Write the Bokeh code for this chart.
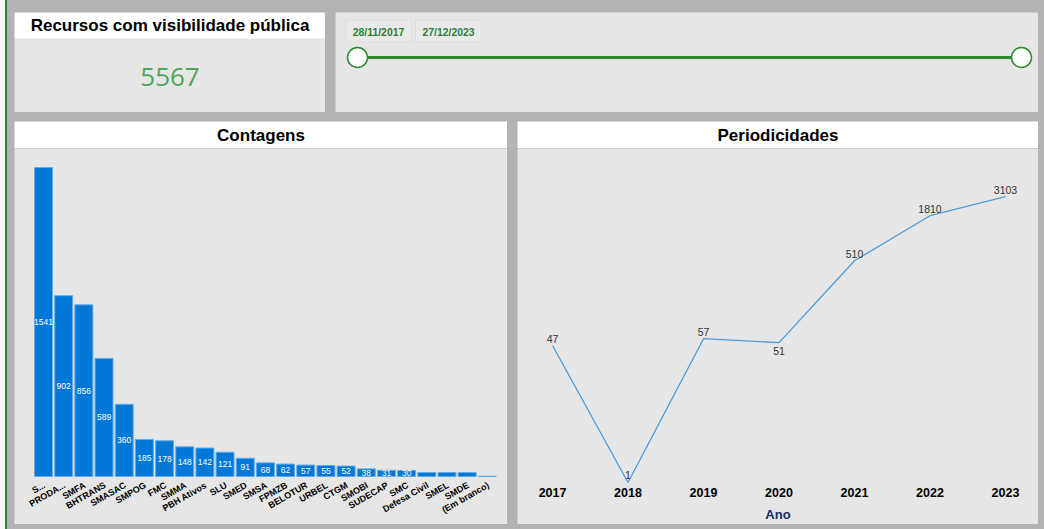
from bokeh.plotting import figure
from bokeh.models import ColumnDataSource, Range1d, CDSView, IndexFilter
from bokeh.layouts import column, row
from bokeh.core.properties import value
from bokeh.embed import file_html
from bokeh.resources import INLINE

card_title = "Recursos com visibilidade pública"
bar_title = "Contagens"
line_title = "Periodicidades"
slider_dates = ["28/11/2017", "27/12/2023"]

categories = ["S...", "PRODA...", "SMFA", "BHTRANS", "SMASAC", "SMPOG", "FMC", "SMMA",
              "PBH Ativos", "SLU", "SMED", "SMSA", "FPMZB", "BELOTUR", "URBEL", "CTGM",
              "SMOBI", "SUDECAP", "SMC", "Defesa Civil", "SMEL", "SMDE", "(Em branco)"]
counts = [1541, 902, 856, 589, 360, 185, 178, 148, 142, 121, 91, 68, 62, 57, 55, 52,
          38, 31, 30, 20, 20, 20, 1]

years = [2017, 2018, 2019, 2020, 2021, 2022, 2023]
year_values = [47, 1, 57, 51, 510, 1810, 3103]
x_axis_title = "Ano"

FONT = value("Liberation Sans")
CARD_BG = "#e6e6e6"
PAGE_BG = "#b3b3b3"


def base(w, h, x_range, y_range, bg=CARD_BG, **kw):
    p = figure(width=w, height=h, x_range=x_range, y_range=y_range,
               toolbar_location=None, tools="", output_backend="svg", min_border=0,
               x_axis_location=None, y_axis_location=None,
               background_fill_color=bg, border_fill_color=bg, outline_line_color=None, **kw)
    p.grid.visible = False
    return p


def panel(w, h, bg=CARD_BG):
    return base(w, h, Range1d(0, w), Range1d(0, h), bg=bg)


def header(w, title):
    p = panel(w, 27, bg="white")
    p.text(x=[w / 2], y=[13.5], text=[title], text_font=FONT, text_font_style="bold",
           text_font_size="17px", text_color="black", text_align="center",
           text_baseline="middle")
    return p


# Card A: KPI
pa = panel(311, 100)
pa.quad(left=[0], right=[311], bottom=[74], top=[100], fill_color="white", line_color=None)
pa.text(x=[155.5], y=[87], text=[card_title], text_font=FONT, text_font_style="bold",
        text_font_size="17px", text_color="black", text_align="center", text_baseline="middle")
pa.text(x=[155.5], y=[36], text=[str(sum(counts))], text_font=value("Open Sans"),
        text_font_size="26px", text_color="#4ea65a", text_align="center", text_baseline="middle")

# Card B: slider
pb = panel(703, 100)
pb.quad(left=[10, 80], right=[76, 146], bottom=[70.5, 70.5], top=[92.5, 92.5],
        fill_color="#e9e9e9", line_color="#dedede")
pb.text(x=[43, 113], y=[80.5, 80.5], text=slider_dates, text_font=FONT, text_font_style="bold",
        text_font_size="10.4px", text_color="#2e7d32", text_align="center", text_baseline="middle")
pb.line(x=[22, 686], y=[55, 55], line_color="#2a8a2a", line_width=3)
pb.scatter(x=[22, 686], y=[55, 55], size=20, fill_color="white", line_color="#2a8a2a",
           line_width=1.5)

# Card C: bar chart (frame fills the whole card body; labels drawn inside)
hc = header(493, bar_title)
xs = list(range(len(categories)))
pc = base(493, 376, Range1d(-1.438, 23.0), Range1d(-239.4, 1635.8))
src = ColumnDataSource(dict(x=xs, cat=categories, val=counts,
                            mid=[v / 2 for v in counts], lab=[str(v) for v in counts]))
pc.vbar(x="x", top="val", width=0.89, source=src, fill_color="#0078d7",
        line_color="#62aae8", line_width=1)
shown = [i for i, v in enumerate(counts) if v >= 30]
pc.text(x="x", y="mid", text="lab", source=src, view=CDSView(filter=IndexFilter(shown)),
        text_font=FONT, text_font_size="8.5px", text_color="white",
        text_align="center", text_baseline="middle")
pc.text(x="x", y=0, text="cat", source=src, angle=0.52,
        text_font=FONT, text_font_style="bold", text_font_size="9px", text_color="black",
        text_align="right", text_baseline="middle", x_offset=1, y_offset=8)

# Card D: line chart (log scale)
hd = header(521, line_title)
pd = base(521, 376, Range1d(2016.536, 2023.437), Range1d(0.307, 11970), y_axis_type="log")
lsrc = ColumnDataSource(dict(yr=years, v=year_values, lab=[str(v) for v in year_values],
                             yl=[str(y) for y in years]))
pd.line(x="yr", y="v", source=lsrc, line_color="#4a9de0", line_width=1.3)
above = [i for i in range(len(years)) if i != 3]
below = [3]
pd.text(x="yr", y="v", text="lab", source=lsrc, view=CDSView(filter=IndexFilter(above)),
        text_font=FONT, text_font_size="10.5px", text_color="#333333",
        text_align="center", text_baseline="bottom", y_offset=-3)
pd.text(x="yr", y="v", text="lab", source=lsrc, view=CDSView(filter=IndexFilter(below)),
        text_font=FONT, text_font_size="10.5px", text_color="#333333",
        text_align="center", text_baseline="top", y_offset=4)
ybot = pd.y_range.start
pd.text(x="yr", y=ybot, text="yl", source=lsrc, text_font=FONT, text_font_style="bold",
        text_font_size="12.5px", text_color="black", text_align="center",
        text_baseline="middle", y_offset=-32)
pd.text(x=[(pd.x_range.start + pd.x_range.end) / 2], y=[ybot], text=[x_axis_title],
        text_font=FONT, text_font_style="bold", text_font_size="13px", text_color="#1b2a5c",
        text_align="center", text_baseline="middle", y_offset=-10)

layout = column(
    row(pa, pb, spacing=10),
    row(column(hc, pc, spacing=0), column(hd, pd, spacing=0), spacing=10),
    spacing=9,
    styles={"background-color": PAGE_BG, "padding": "12px 6px 5px 7px",
            "margin-left": "5px", "border-left": "2px solid #2e7d32"},
)

open("out.html", "w").write(file_html(layout, INLINE))
